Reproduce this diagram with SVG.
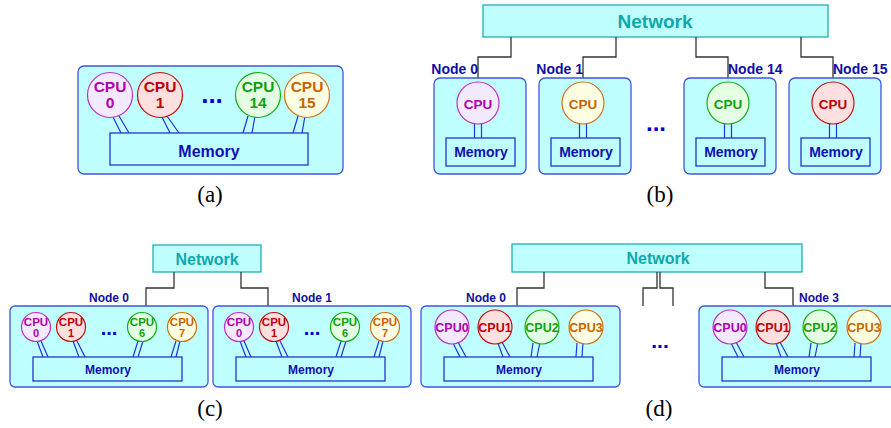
<svg xmlns="http://www.w3.org/2000/svg" width="891" height="428" viewBox="0 0 891 428">
<style>
text{font-family:"Liberation Sans",Arial,sans-serif;font-weight:bold;text-anchor:middle}
.box{fill:#c0ffff;stroke:#4455dd;stroke-width:1.3}
.mem{fill:#c0ffff;stroke:#2233cc;stroke-width:1.3}
.net{fill:#c0ffff;stroke:#20b0b0;stroke-width:1.3}
.nett{fill:#10a8a8}
.memt{fill:#1010b0}
.nl{fill:#1010a0}
.dots{fill:#0000cc}
.link{stroke:#2233dd;stroke-width:1.2;fill:none}
.conn{stroke:#333;stroke-width:1.3;fill:none}
.m{fill:#f4eaff;stroke:#c030c0;stroke-width:1.2}
.r{fill:#ffe0e0;stroke:#c01010;stroke-width:1.2}
.g{fill:#e4ffe4;stroke:#10b010;stroke-width:1.2}
.o{fill:#ffffe4;stroke:#d07010;stroke-width:1.2}
.mt{fill:#b000b0}
.rt{fill:#c00000}
.gt{fill:#10a010}
.ot{fill:#c86400}
.cap{font-family:"Liberation Serif","Times New Roman",serif;font-weight:normal;font-size:23px;fill:#000}
.c1{font-size:11px}
.a1{font-size:15.5px}
</style>

<!-- Panel (a) -->
<g id="a-node">
<rect class="box" x="78" y="66" width="265" height="108" rx="6"/>
</g>
<g id="a-links">
<path class="link" d="M113 117L121 133M119 116L129 133M162 117L170 133M167 116L179 133M248 116L243 133M255 116L252 133M298 116L293 133M305 116L302 133"/>
</g>
<g id="a-cpu0"><circle class="m" cx="110" cy="95" r="22.5"/><text class="mt a1" x="110" y="92">CPU</text><text class="mt a1" x="110" y="107.5">0</text></g>
<g id="a-cpu1"><circle class="r" cx="160" cy="95" r="22.5"/><text class="rt a1" x="160" y="92">CPU</text><text class="rt a1" x="160" y="107.5">1</text></g>
<g id="a-cpu14"><circle class="g" cx="258" cy="95" r="22.5"/><text class="gt a1" x="258" y="92">CPU</text><text class="gt a1" x="258" y="107.5">14</text></g>
<g id="a-cpu15"><circle class="o" cx="307" cy="95" r="22.5"/><text class="ot a1" x="307" y="92">CPU</text><text class="ot a1" x="307" y="107.5">15</text></g>
<text class="dots" x="212" y="103" font-size="26">...</text>
<g id="a-mem"><rect class="mem" x="110" y="133" width="198" height="32"/><text class="memt" x="209" y="157" font-size="16">Memory</text></g>
<text class="cap" x="210" y="202">(a)</text>

<!-- Panel (b) -->
<g id="b-network"><rect class="net" x="483" y="5" width="345" height="32"/><text class="nett" x="655" y="28" font-size="19">Network</text></g>
<g id="b-connectors">
<path class="conn" d="M511 37V57H478V78M616 37V57H583V78M696 37V57H728V78M801 37V57H833V78"/>
</g>
<text class="nl" x="478" y="74" font-size="14" style="text-anchor:end">Node 0</text>
<text class="nl" x="583" y="74" font-size="14" style="text-anchor:end">Node 1</text>
<text class="nl" x="728" y="74" font-size="14" style="text-anchor:start">Node 14</text>
<text class="nl" x="833" y="74" font-size="14" style="text-anchor:start">Node 15</text>
<g id="b-node0">
<rect class="box" x="434" y="78" width="92" height="96" rx="6"/>
<path class="link" d="M474.5 124V138M481.5 124V138"/>
<circle class="m" cx="478" cy="103" r="21"/><text class="mt" x="478" y="108.5" font-size="13.5">CPU</text>
<rect class="mem" x="446" y="138" width="69" height="28"/><text class="memt" x="481" y="157" font-size="14">Memory</text>
</g>
<g id="b-node1">
<rect class="box" x="539" y="78" width="92" height="96" rx="6"/>
<path class="link" d="M579.5 124V138M586.5 124V138"/>
<circle class="o" cx="583" cy="103" r="21"/><text class="ot" x="583" y="108.5" font-size="13.5">CPU</text>
<rect class="mem" x="551" y="138" width="69" height="28"/><text class="memt" x="586" y="157" font-size="14">Memory</text>
</g>
<g id="b-node14">
<rect class="box" x="684" y="78" width="92" height="96" rx="6"/>
<path class="link" d="M724.5 124V138M731.5 124V138"/>
<circle class="g" cx="728" cy="103" r="21"/><text class="gt" x="728" y="108.5" font-size="13.5">CPU</text>
<rect class="mem" x="696" y="138" width="69" height="28"/><text class="memt" x="731" y="157" font-size="14">Memory</text>
</g>
<g id="b-node15">
<rect class="box" x="789" y="78" width="92" height="96" rx="6"/>
<path class="link" d="M829.5 124V138M836.5 124V138"/>
<circle class="r" cx="833" cy="103" r="21"/><text class="rt" x="833" y="108.5" font-size="13.5">CPU</text>
<rect class="mem" x="801" y="138" width="69" height="28"/><text class="memt" x="836" y="157" font-size="14">Memory</text>
</g>
<text class="dots" x="656" y="131" font-size="24">...</text>
<text class="cap" x="660" y="202">(b)</text>

<!-- Panel (c) -->
<g id="c-network"><rect class="net" x="153" y="245" width="108" height="27"/><text class="nett" x="207" y="265" font-size="16">Network</text></g>
<g id="c-connectors"><path class="conn" d="M174 272V288H146V306M241 272V288H268V306"/></g>
<text class="nl" x="129" y="302" font-size="12" style="text-anchor:end">Node 0</text>
<text class="nl" x="292" y="302" font-size="12" style="text-anchor:start">Node 1</text>
<g id="c-node0">
<rect class="box" x="10" y="306" width="198" height="81" rx="5"/>
<path class="link" d="M37 341L43 357M41 341L48 357M73 341L79 357M77 341L85 357M138 341L133 357M143 341L138 357M176 341L171 357M180 341L176 357"/>
<circle class="m" cx="36" cy="327" r="14.5"/><text class="mt" x="36" y="325.5" font-size="11.5">CPU</text><text class="mt c1" x="36" y="337">0</text>
<circle class="r" cx="71" cy="327" r="14.5"/><text class="rt" x="71" y="325.5" font-size="11.5">CPU</text><text class="rt c1" x="71" y="337">1</text>
<circle class="g" cx="142" cy="327" r="14.5"/><text class="gt" x="142" y="325.5" font-size="11.5">CPU</text><text class="gt c1" x="142" y="337">6</text>
<circle class="o" cx="182" cy="327" r="14.5"/><text class="ot" x="182" y="325.5" font-size="11.5">CPU</text><text class="ot c1" x="182" y="337">7</text>
<text class="dots" x="109" y="335" font-size="20">...</text>
<rect class="mem" x="33" y="357" width="149" height="24"/><text class="memt" x="108" y="373.5" font-size="12">Memory</text>
</g>
<g id="c-node1">
<rect class="box" x="213" y="306" width="198" height="81" rx="5"/>
<path class="link" d="M240 341L246 357M244 341L251 357M276 341L282 357M280 341L288 357M341 341L336 357M346 341L341 357M379 341L374 357M383 341L379 357"/>
<circle class="m" cx="239" cy="327" r="14.5"/><text class="mt" x="239" y="325.5" font-size="11.5">CPU</text><text class="mt c1" x="239" y="337">0</text>
<circle class="r" cx="274" cy="327" r="14.5"/><text class="rt" x="274" y="325.5" font-size="11.5">CPU</text><text class="rt c1" x="274" y="337">1</text>
<circle class="g" cx="345" cy="327" r="14.5"/><text class="gt" x="345" y="325.5" font-size="11.5">CPU</text><text class="gt c1" x="345" y="337">6</text>
<circle class="o" cx="385" cy="327" r="14.5"/><text class="ot" x="385" y="325.5" font-size="11.5">CPU</text><text class="ot c1" x="385" y="337">7</text>
<text class="dots" x="312" y="335" font-size="20">...</text>
<rect class="mem" x="236" y="357" width="149" height="24"/><text class="memt" x="311" y="373.5" font-size="12">Memory</text>
</g>
<text class="cap" x="210" y="416">(c)</text>

<!-- Panel (d) -->
<g id="d-network"><rect class="net" x="512" y="244" width="290" height="28"/><text class="nett" x="658" y="264" font-size="16">Network</text></g>
<g id="d-connectors"><path class="conn" d="M544 272V288H517V306M765 272V288H793V306M657 272V288H643V306M660 272V288H673V306"/></g>
<text class="nl" x="506" y="302" font-size="12" style="text-anchor:end">Node 0</text>
<text class="nl" x="799" y="302" font-size="12" style="text-anchor:start">Node 3</text>
<g id="d-node0">
<rect class="box" x="421" y="306" width="199" height="81" rx="5"/>
<path class="link" d="M453 343L460 357M458 342L466 357M498 343L503 357M502 342L510 357M533 343L531 357M540 342L537 357M577 343L576 357M583 342L582 357"/>
<circle class="m" cx="452" cy="327" r="17"/><text class="mt" x="452" y="331.5" font-size="12.5">CPU0</text>
<circle class="r" cx="495" cy="327" r="17"/><text class="rt" x="495" y="331.5" font-size="12.5">CPU1</text>
<circle class="g" cx="542" cy="327" r="17"/><text class="gt" x="542" y="331.5" font-size="12.5">CPU2</text>
<circle class="o" cx="586" cy="327" r="17"/><text class="ot" x="586" y="331.5" font-size="12.5">CPU3</text>
<rect class="mem" x="444" y="357" width="149" height="24"/><text class="memt" x="519" y="373.5" font-size="12">Memory</text>
</g>
<g id="d-node3">
<rect class="box" x="699" y="306" width="199" height="81" rx="5"/>
<path class="link" d="M731 343L738 357M736 342L744 357M776 343L781 357M780 342L788 357M811 343L809 357M818 342L815 357M855 343L854 357M861 342L860 357"/>
<circle class="m" cx="730" cy="327" r="17"/><text class="mt" x="730" y="331.5" font-size="12.5">CPU0</text>
<circle class="r" cx="773" cy="327" r="17"/><text class="rt" x="773" y="331.5" font-size="12.5">CPU1</text>
<circle class="g" cx="820" cy="327" r="17"/><text class="gt" x="820" y="331.5" font-size="12.5">CPU2</text>
<circle class="o" cx="864" cy="327" r="17"/><text class="ot" x="864" y="331.5" font-size="12.5">CPU3</text>
<rect class="mem" x="722" y="357" width="149" height="24"/><text class="memt" x="797" y="373.5" font-size="12">Memory</text>
</g>
<text class="dots" x="660" y="348" font-size="21">...</text>
<text class="cap" x="659" y="416">(d)</text>
</svg>
